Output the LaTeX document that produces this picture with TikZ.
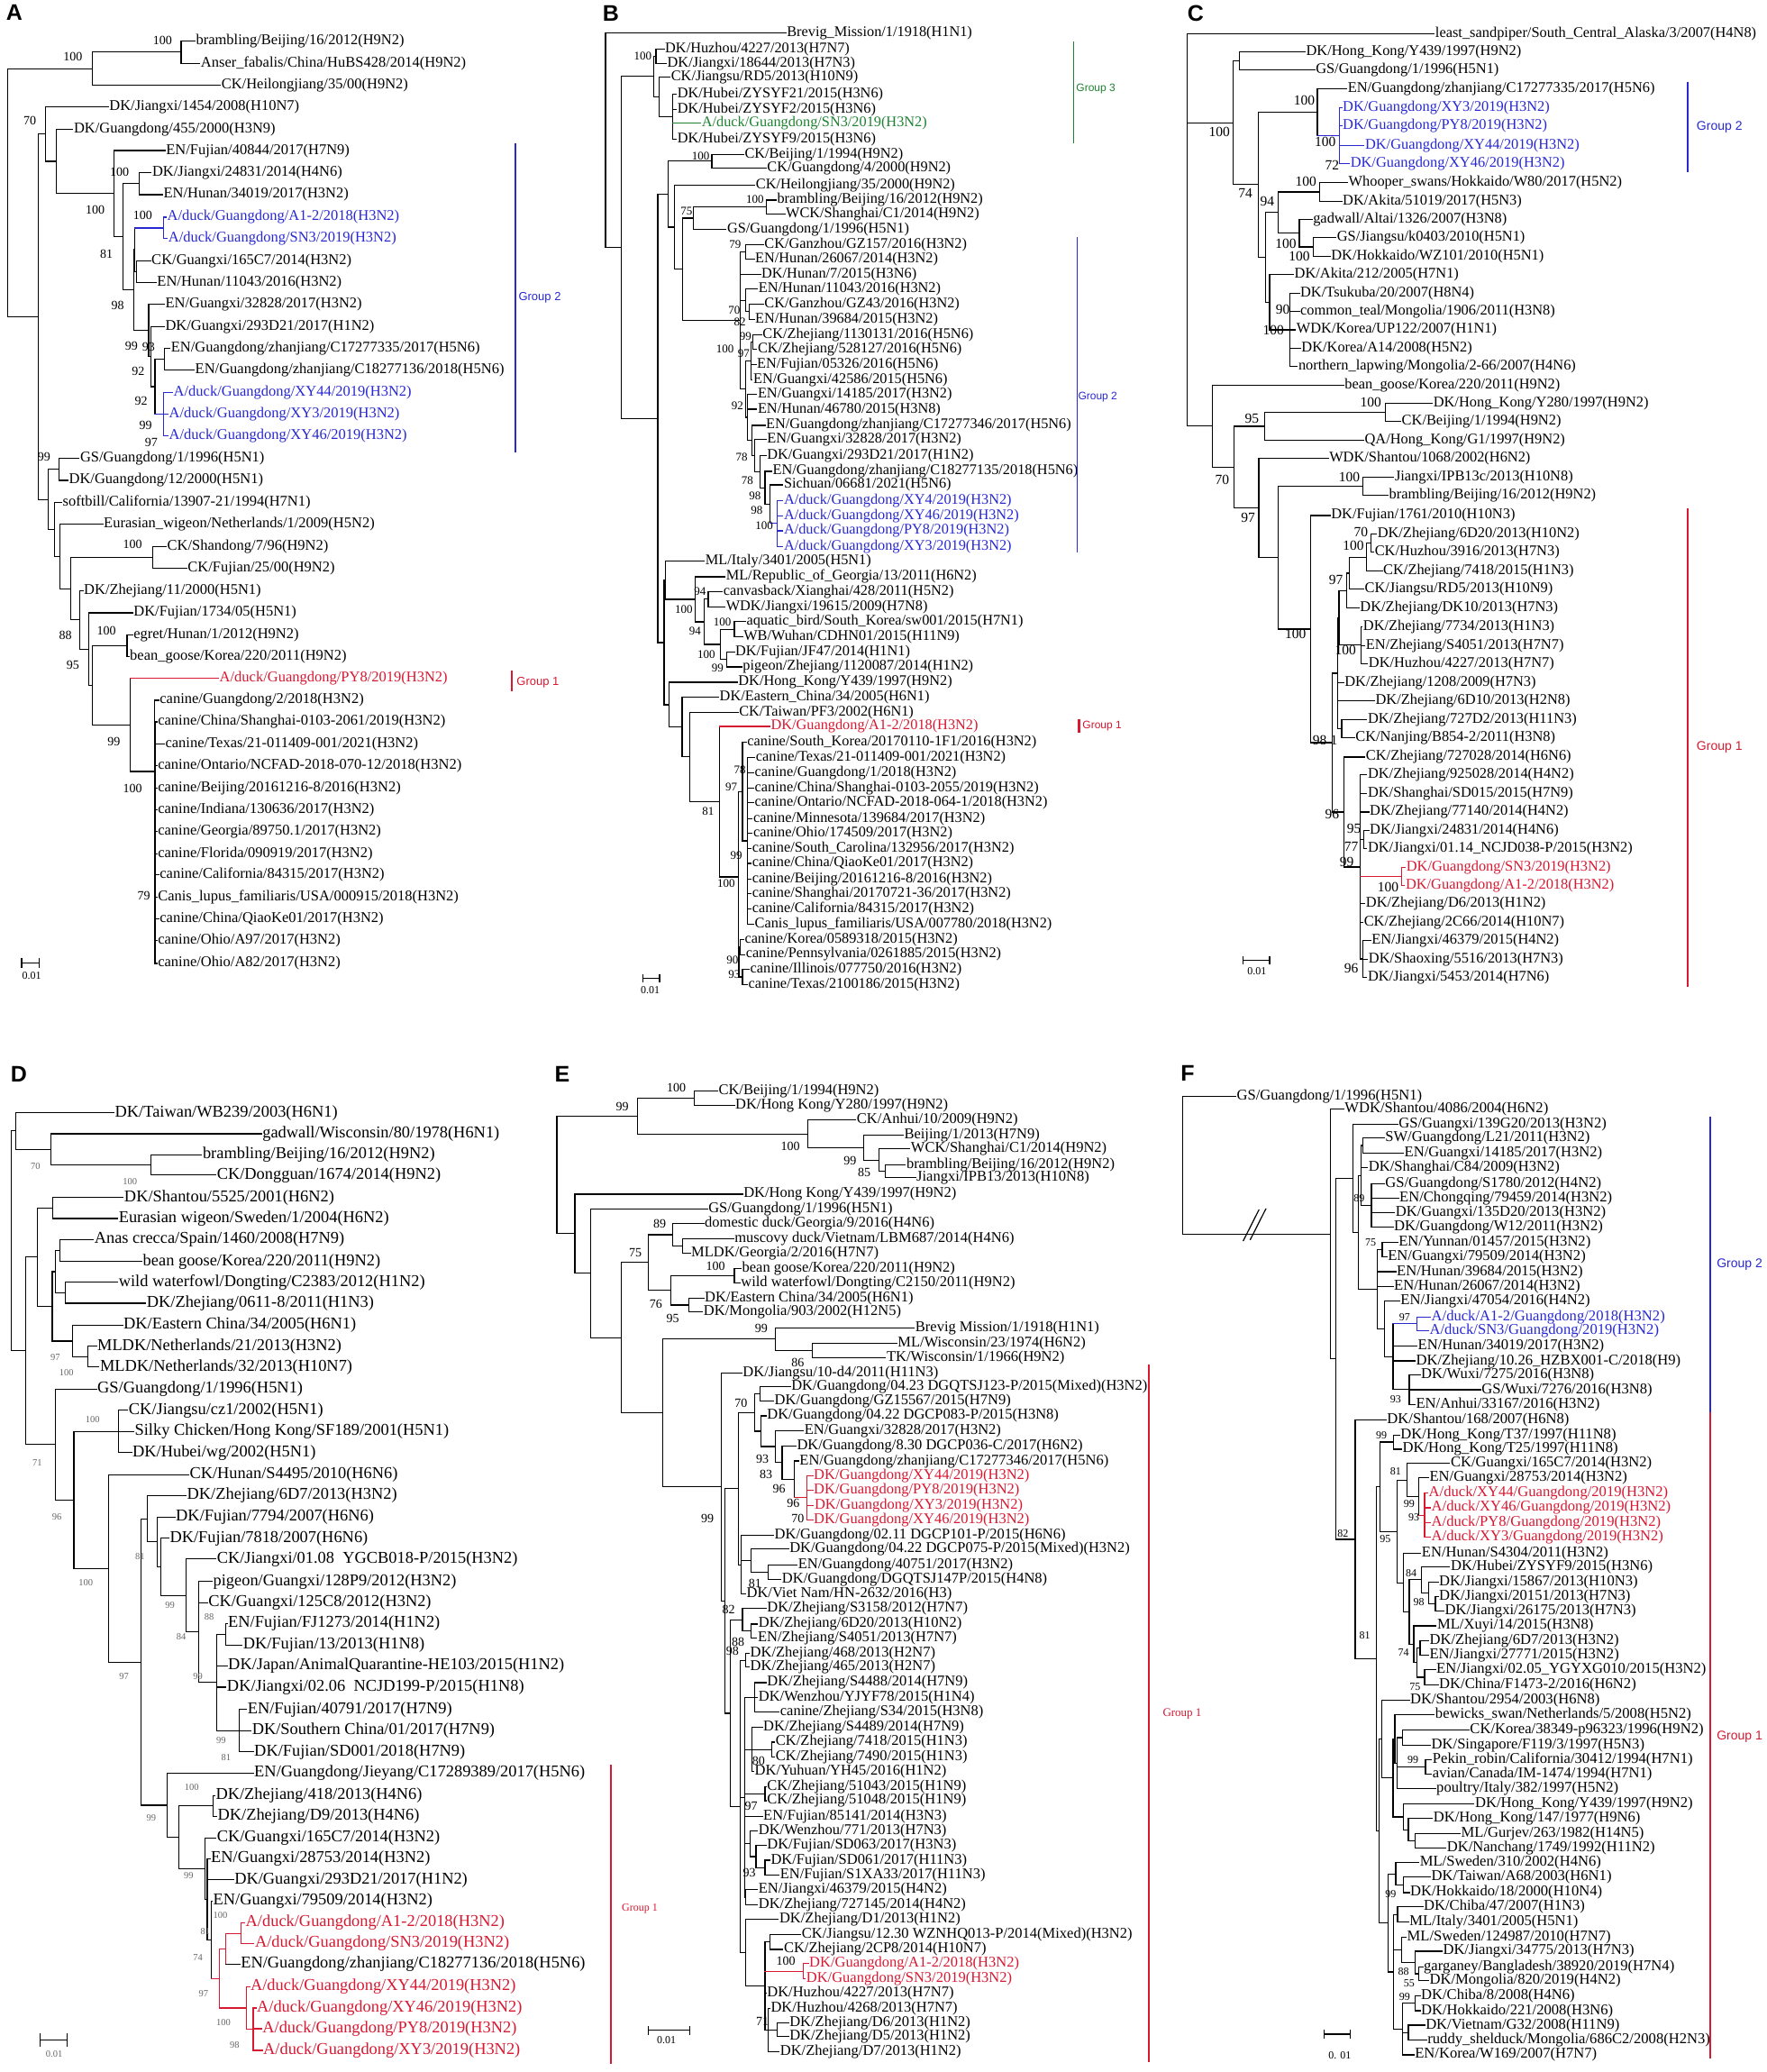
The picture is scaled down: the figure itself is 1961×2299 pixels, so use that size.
\documentclass[tikz,border=0pt]{standalone}
\usepackage{fontspec}
\setmainfont{Liberation Serif}
\newfontfamily\sansf{Liberation Sans}
\usetikzlibrary{calc}
\definecolor{cb}{RGB}{40,40,210}
\definecolor{cr}{RGB}{215,25,50}
\definecolor{cg}{RGB}{30,130,50}
\newcommand\fsz[1]{\fontsize{#1}{#1}\selectfont}
\makeatletter
\newcommand\Lf[4][black]{%
  \coordinate (#2) at (#3);%
  \node[lab,text=#1] (#2t) at (#3) {#4};%
  \expandafter\xdef\csname ec@#2\endcsname{#1}}
\newcommand\Cl[4][black]{%
  \foreach \c [count=\i] in {#4} {\ifnum\i=1 \xdef\clA{\c}\fi \xdef\clB{\c}}%
  \edef\cltmp{\noexpand\coordinate (tmpmid) at ($(\clA)!0.5!(\clB)$);}\cltmp
  \coordinate (tmpx) at (#3,0);%
  \coordinate (#2) at (tmpx |- tmpmid);%
  \expandafter\xdef\csname ec@#2\endcsname{#1}%
  \edef\cltmp{\noexpand\draw[br,draw=#1] (#2 |- \clA) -- (#2 |- \clB);}\cltmp
  \foreach \c in {#4} {\edef\cltmp{\noexpand\draw[br,draw=\csname ec@\c\endcsname] (#2 |- \c) -- (\c);}\cltmp}%
}
\newcommand\Bs[2]{\node[bsl] at (#1) {#2};}
\makeatother
\begin{document}
\begin{tikzpicture}[x=1pt,y=-1pt,
  br/.style={line width=1.2pt,line cap=rect},
  gbar/.style={line width=2.4pt},
  glab/.style={font=\sansf\fsz{13},inner sep=0pt,anchor=west},
  sbar/.style={line width=1.2pt},
  slab/.style={font=\fsz{12},inner sep=0pt},
  plet/.style={font=\sansf\bfseries\fsz{25},inner sep=0pt},
  lab/.style={anchor=west,inner sep=1pt,font=\fsz{16.5}},
  bsl/.style={font=\fsz{14},inner sep=0pt},
  z1/.style={shift={(0,0)},xscale=0.4145,yscale=0.357},
  z2/.style={shift={(0,540)},xscale=0.4145,yscale=0.3635},
  z3/.style={shift={(645,0)},xscale=0.4145,yscale=0.357},
  z4/.style={shift={(645,540)},xscale=0.4145,yscale=0.3635},
  z5/.style={shift={(1290,0)},xscale=0.428,yscale=0.357},
  z6/.style={shift={(1290,540)},xscale=0.428,yscale=0.3635},
  z7/.style={shift={(0,1130)},xscale=0.4145,yscale=0.3763},
  z8/.style={shift={(0,1700)},xscale=0.4145,yscale=0.382},
  z9/.style={shift={(645,1130)},xscale=0.4145,yscale=0.3763},
  z10/.style={shift={(645,1700)},xscale=0.4145,yscale=0.382},
  z11/.style={shift={(1290,1130)},xscale=0.428,yscale=0.3763},
  z12/.style={shift={(1290,1700)},xscale=0.428,yscale=0.382}]
\useasboundingbox (0,0) rectangle (1961,2299);
\fill[white] (0,0) rectangle (1961,2299);
\node[plet] (LA) at (16,14) {A};
\node[plet] (LB) at (678,15) {B};
\node[plet] (LC) at (1327,15) {C};
\node[plet] (LD) at (21,1192) {D};
\node[plet] (LE) at (624,1192) {E};
\node[plet] (LF) at (1318,1191) {F};

% ================= PANEL A =================
\begin{scope}[z1]
\Lf{a1}{522,127}{brambling/Beijing/16/2012(H9N2)}
\Lf{a2}{535,197}{Anser\_fabalis/China/HuBS428/2014(H9N2)}
\Lf{a3}{590,265}{CK/Heilongjiang/35/00(H9N2)}
\Lf{a4}{290,333}{DK/Jiangxi/1454/2008(H10N7)}
\Lf{a5}{195,401}{DK/Guangdong/455/2000(H3N9)}
\Lf{a6}{442,468}{EN/Fujian/40844/2017(H7N9)}
\Lf{a7}{405,537}{DK/Jiangxi/24831/2014(H4N6)}
\Lf{a8}{435,605}{EN/Hunan/34019/2017(H3N2)}
\Lf[cb]{a9}{445,675}{A/duck/Guangdong/A1-2/2018(H3N2)}
\Lf[cb]{a10}{448,742}{A/duck/Guangdong/SN3/2019(H3N2)}
\Lf{a11}{403,810}{CK/Guangxi/165C7/2014(H3N2)}
\Lf{a12}{418,878}{EN/Hunan/11043/2016(H3N2)}
\Lf{a13}{440,945}{EN/Guangxi/32828/2017(H3N2)}
\Lf{a14}{440,1015}{DK/Guangxi/293D21/2017(H1N2)}
\Lf{a15}{455,1083}{EN/Guangdong/zhanjiang/C17277335/2017(H5N6)}
\Lf{a16}{520,1150}{EN/Guangdong/zhanjiang/C18277136/2018(H5N6)}
\Lf[cb]{a17}{462,1220}{A/duck/Guangdong/XY44/2019(H3N2)}
\Lf[cb]{a18}{450,1288}{A/duck/Guangdong/XY3/2019(H3N2)}
\Lf[cb]{a19}{450,1355}{A/duck/Guangdong/XY46/2019(H3N2)}
\Lf{a20}{212,1425}{GS/Guangdong/1/1996(H5N1)}
\Lf{a21}{182,1493}{DK/Guangdong/12/2000(H5N1)}
\Bs{435,125}{100}\Bs{195,175}{100}\Bs{80,375}{70}\Bs{320,535}{100}
\Bs{255,652}{100}\Bs{382,670}{100}\Bs{285,790}{81}\Bs{315,950}{98}
\Bs{352,1075}{99}\Bs{398,1078}{93}\Bs{370,1155}{92}\Bs{378,1245}{92}
\Bs{390,1322}{99}\Bs{405,1375}{97}\Bs{118,1420}{99}
\draw[gbar,cb] (1380,445) -- (1380,1405);
\node[glab,cb] (gA2) at (1388,925) {Group 2};
\end{scope}
\begin{scope}[z2]
\Lf{a22}{165,48}{softbill/California/13907-21/1994(H7N1)}
\Lf{a23}{275,115}{Eurasian\_wigeon/Netherlands/1/2009(H5N2)}
\Lf{a24}{445,182}{CK/Shandong/7/96(H9N2)}
\Lf{a25}{500,250}{CK/Fujian/25/00(H9N2)}
\Lf{a26}{222,318}{DK/Zhejiang/11/2000(H5N1)}
\Lf{a27}{355,385}{DK/Fujian/1734/05(H5N1)}
\Lf{a28}{355,452}{egret/Hunan/1/2012(H9N2)}
\Lf{a29}{345,518}{bean\_goose/Korea/220/2011(H9N2)}
\Lf[cr]{a30}{585,585}{A/duck/Guangdong/PY8/2019(H3N2)}
\Lf{a31}{425,652}{canine/Guangdong/2/2018(H3N2)}
\Lf{a32}{420,718}{canine/China/Shanghai-0103-2061/2019(H3N2)}
\Lf{a33}{440,785}{canine/Texas/21-011409-001/2021(H3N2)}
\Lf{a34}{420,852}{canine/Ontario/NCFAD-2018-070-12/2018(H3N2)}
\Lf{a35}{420,920}{canine/Beijing/20161216-8/2016(H3N2)}
\Lf{a36}{420,987}{canine/Indiana/130636/2017(H3N2)}
\Lf{a37}{420,1053}{canine/Georgia/89750.1/2017(H3N2)}
\Lf{a38}{420,1120}{canine/Florida/090919/2017(H3N2)}
\Lf{a39}{425,1185}{canine/California/84315/2017(H3N2)}
\Lf{a40}{420,1252}{Canis\_lupus\_familiaris/USA/000915/2018(H3N2)}
\Lf{a41}{425,1320}{canine/China/QiaoKe01/2017(H3N2)}
\Lf{a42}{420,1385}{canine/Ohio/A97/2017(H3N2)}
\Lf{a43}{420,1455}{canine/Ohio/A82/2017(H3N2)}
\Cl{an1}{485}{a1,a2}
\Cl{an2}{248}{an1,a3}
\Cl{an3}{372}{a7,a8}
\Cl[cb]{an4}{437}{a9,a10}
\Cl{an5}{366}{a11,a12}
\Cl{an6}{360}{an4,an5}
\Cl{an7}{440}{a15,a16}
\Cl[cb]{an8}{437}{a17,a18,a19}
\Cl{an9}{415}{an7,an8}
\Cl{an10}{405}{a14,an9}
\Cl{an11}{398}{a13,an10}
\Cl{an12}{358}{an6,an11}
\Cl{an13}{330}{an3,an12}
\Cl{an14}{305}{a6,an13}
\Cl{an15}{150}{a5,an14}
\Cl{an16}{122}{a4,an15}
\Cl{an17}{158}{a20,a21}
\Cl{an18}{408}{a24,a25}
\Cl{an19}{340}{a28,a29}
\Cl{an20}{415}{a32,a33,a34,a35,a36,a37,a38,a39,a40,a41,a42,a43}
\Cl{an21}{413}{a31,an20}
\Cl{an22}{348}{a30,an21}
\Cl{an23}{248}{an19,an22}
\Cl{an24}{237}{a27,an23}
\Cl{an25}{213}{a26,an24}
\Cl{an26}{190}{an18,an25}
\Cl{an27}{160}{a23,an26}
\Cl{an28}{145}{a22,an27}
\Cl{an29}{130}{an17,an28}
\Cl{an30}{103}{an16,an29}
\Cl{an31}{20}{an2,an30}
\Bs{355,175}{100}\Bs{175,455}{88}\Bs{285,440}{100}\Bs{195,545}{95}
\Bs{305,778}{99}\Bs{355,920}{100}\Bs{385,1250}{79}
\draw[gbar,cr] (1370,560) -- (1370,625);
\node[glab,cr] (gA1) at (1383,598) {Group 1};
\draw[sbar] (58,1455) -- (105,1455) (58,1438) -- (58,1470) (105,1438) -- (105,1470);
\node[slab] (sA) at (85,1492) {0.01};
\end{scope}

% ================= PANEL B =================
\begin{scope}[z3,lab/.style={anchor=west,inner sep=1pt,font=\fsz{16.3}},bsl/.style={font=\fsz{13},inner sep=0pt}]
\Lf{b1}{548,103}{Brevig\_Mission/1/1918(H1N1)}
\Lf{b2}{222,152}{DK/Huzhou/4227/2013(H7N7)}
\Lf{b3}{228,197}{DK/Jiangxi/18644/2013(H7N3)}
\Lf{b4}{238,240}{CK/Jiangsu/RD5/2013(H10N9)}
\Lf{b5}{255,292}{DK/Hubei/ZYSYF21/2015(H3N6)}
\Lf{b6}{255,340}{DK/Hubei/ZYSYF2/2015(H3N6)}
\Lf[cg]{b7}{320,383}{A/duck/Guangdong/SN3/2019(H3N2)}
\Lf{b8}{255,432}{DK/Hubei/ZYSYF9/2015(H3N6)}
\Lf{b9}{435,480}{CK/Beijing/1/1994(H9N2)}
\Lf{b10}{495,522}{CK/Guangdong/4/2000(H9N2)}
\Lf{b11}{465,575}{CK/Heilongjiang/35/2000(H9N2)}
\Lf{b12}{522,622}{brambling/Beijing/16/2012(H9N2)}
\Lf{b13}{545,665}{WCK/Shanghai/C1/2014(H9N2)}
\Lf{b14}{388,713}{GS/Guangdong/1/1996(H5N1)}
\Lf{b15}{488,760}{CK/Ganzhou/GZ157/2016(H3N2)}
\Lf{b16}{463,805}{EN/Hunan/26067/2014(H3N2)}
\Lf{b17}{480,852}{DK/Hunan/7/2015(H3N6)}
\Lf{b18}{472,898}{EN/Hunan/11043/2016(H3N2)}
\Lf{b19}{488,945}{CK/Ganzhou/GZ43/2016(H3N2)}
\Lf{b20}{463,992}{EN/Hunan/39684/2015(H3N2)}
\Lf{b21}{483,1040}{CK/Zhejiang/1130131/2016(H5N6)}
\Lf{b22}{470,1085}{CK/Zhejiang/528127/2016(H5N6)}
\Lf{b23}{468,1133}{EN/Fujian/05326/2016(H5N6)}
\Lf{b24}{458,1180}{EN/Guangxi/42586/2015(H5N6)}
\Lf{b25}{470,1225}{EN/Guangxi/14185/2017(H3N2)}
\Lf{b26}{470,1272}{EN/Hunan/46780/2015(H3N8)}
\Lf{b27}{492,1322}{EN/Guangdong/zhanjiang/C17277346/2017(H5N6)}
\Lf{b28}{495,1365}{EN/Guangxi/32828/2017(H3N2)}
\Lf{b29}{495,1415}{DK/Guangxi/293D21/2017(H1N2)}
\Lf{b30}{510,1465}{EN/Guangdong/zhanjiang/C18277135/2018(H5N6)}
\Lf{b31}{540,1507}{Sichuan/06681/2021(H5N6)}
\Bs{165,175}{100}\Bs{320,485}{100}\Bs{465,620}{100}\Bs{282,655}{75}
\Bs{412,760}{79}\Bs{410,965}{70}\Bs{425,1000}{82}\Bs{440,1045}{99}
\Bs{385,1085}{100}\Bs{435,1100}{97}\Bs{418,1260}{92}\Bs{430,1420}{78}
\Bs{445,1495}{78}\Bs{465,1540}{98}
\draw[gbar,cg,line width=1.6pt] (1318,130) -- (1318,445);
\node[glab,cg,font=\sansf\fsz{12}] (gB3) at (1325,275) {Group 3};
\draw[gbar,cb,line width=1.6pt] (1328,738) -- (1328,1568);
\node[glab,cb,font=\sansf\fsz{12}] (gB2) at (1330,1235) {Group 2};
\end{scope}
\begin{scope}[z4,lab/.style={anchor=west,inner sep=1pt,font=\fsz{16.3}},bsl/.style={font=\fsz{13},inner sep=0pt}]
\Lf[cb]{b32}{540,42}{A/duck/Guangdong/XY4/2019(H3N2)}
\Lf[cb]{b33}{540,90}{A/duck/Guangdong/XY46/2019(H3N2)}
\Lf[cb]{b34}{540,135}{A/duck/Guangdong/PY8/2019(H3N2)}
\Lf[cb]{b35}{540,182}{A/duck/Guangdong/XY3/2019(H3N2)}
\Lf{b36}{330,228}{ML/Italy/3401/2005(H5N1)}
\Lf{b37}{385,275}{ML/Republic\_of\_Georgia/13/2011(H6N2)}
\Lf{b38}{378,320}{canvasback/Xianghai/428/2011(H5N2)}
\Lf{b39}{385,367}{WDK/Jiangxi/19615/2009(H7N8)}
\Lf{b40}{440,412}{aquatic\_bird/South\_Korea/sw001/2015(H7N1)}
\Lf{b41}{432,458}{WB/Wuhan/CDHN01/2015(H11N9)}
\Lf{b42}{410,505}{DK/Fujian/JF47/2014(H1N1)}
\Lf{b43}{430,550}{pigeon/Zhejiang/1120087/2014(H1N2)}
\Lf{b44}{418,597}{DK/Hong\_Kong/Y439/1997(H9N2)}
\Lf{b45}{368,643}{DK/Eastern\_China/34/2005(H6N1)}
\Lf{b46}{420,688}{CK/Taiwan/PF3/2002(H6N1)}
\Lf[cr]{b47}{505,732}{DK/Guangdong/A1-2/2018(H3N2)}
\Lf{b48}{442,780}{canine/South\_Korea/20170110-1F1/2016(H3N2)}
\Lf{b49}{465,827}{canine/Texas/21-011409-001/2021(H3N2)}
\Lf{b50}{462,873}{canine/Guangdong/1/2018(H3N2)}
\Lf{b51}{462,920}{canine/China/Shanghai-0103-2055/2019(H3N2)}
\Lf{b52}{462,965}{canine/Ontario/NCFAD-2018-064-1/2018(H3N2)}
\Lf{b53}{458,1013}{canine/Minnesota/139684/2017(H3N2)}
\Lf{b54}{458,1058}{canine/Ohio/174509/2017(H3N2)}
\Lf{b55}{455,1105}{canine/South\_Carolina/132956/2017(H3N2)}
\Lf{b56}{455,1150}{canine/China/QiaoKe01/2017(H3N2)}
\Lf{b57}{455,1197}{canine/Beijing/20161216-8/2016(H3N2)}
\Lf{b58}{455,1242}{canine/Shanghai/20170721-36/2017(H3N2)}
\Lf{b59}{455,1288}{canine/California/84315/2017(H3N2)}
\Lf{b60}{462,1335}{Canis\_lupus\_familiaris/USA/007780/2018(H3N2)}
\Lf{b61}{435,1382}{canine/Korea/0589318/2015(H3N2)}
\Lf{b62}{438,1428}{canine/Pennsylvania/0261885/2015(H3N2)}
\Lf{b63}{450,1473}{canine/Illinois/077750/2016(H3N2)}
\Lf{b64}{445,1520}{canine/Texas/2100186/2015(H3N2)}
\Cl{bn1}{200}{b2,b3}
\Cl{bn2}{245}{b5,b6,b7,b8}
\Cl{bn3}{208}{b4,bn2}
\Cl{bn4}{195}{bn1,bn3}
\Cl{bn5}{350}{b9,b10}
\Cl{bn6}{495}{b12,b13}
\Cl{bn7}{300}{bn6,b14}
\Cl{bn8}{440}{b15,b16}
\Cl{bn9}{450}{b19,b20}
\Cl{bn10}{440}{b18,bn9}
\Cl{bn11}{460}{b21,b22}
\Cl{bn12}{455}{bn11,b23,b24}
\Cl[cb]{bn13}{525}{b32,b33,b34,b35}
\Cl{bn14}{505}{b31,bn13}
\Cl{bn15}{492}{b30,bn14}
\Cl{bn16}{478}{b29,bn15}
\Cl{bn17}{465}{b28,bn16}
\Cl{bn18}{458}{b27,bn17}
\Cl{bn19}{445}{b25,b26,bn18}
\Cl{bn20}{440}{bn12,bn19}
\Cl{bn21}{425}{bn8,b17,bn10,bn20}
\Cl{bn22}{272}{bn7,bn21}
\Cl{bn23}{250}{b11,bn22}
\Cl{bn24}{232}{bn5,bn23}
\Cl{bn25}{340}{b38,b39}
\Cl{bn27}{410}{b40,b41}
\Cl{bn28}{390}{b42,b43}
\Cl{bn29}{372}{bn27,bn28}
\Cl{bn30}{330}{bn25,bn29}
\Cl{bn31}{305}{b37,bn30}
\Cl{bn32}{225}{b36,bn31}
\Cl{bn34}{445}{b49,b50,b51,b52,b53,b54,b55,b56,b57,b58,b59,b60}
\Cl{bn35}{432}{b48,bn34}
\Cl{bn36}{425}{b61,b62}
\Cl{bn37}{432}{b63,b64}
\Cl{bn38}{422}{bn36,bn37}
\Cl{bn39}{420}{bn35,bn38}
\Cl{bn40}{370}{b47,bn39}
\Cl{bn41}{290}{b46,bn40}
\Cl{bn42}{270}{b45,bn41}
\Cl{bn43}{235}{b44,bn42}
\Cl{bn44}{222}{bn32,bn43}
\Cl{bn45}{205}{bn24,bn44}
\Cl{bn46}{108}{bn4,bn45}
\Cl{bn47}{65}{b1,bn46}
\Bs{470,72}{98}\Bs{490,120}{100}\Bs{318,320}{94}\Bs{275,375}{100}
\Bs{305,440}{94}\Bs{378,412}{100}\Bs{335,513}{100}\Bs{365,555}{99}
\Bs{425,865}{78}\Bs{402,918}{97}\Bs{340,990}{81}\Bs{415,1125}{99}
\Bs{388,1210}{100}\Bs{405,1445}{90}\Bs{410,1490}{93}
\draw[gbar,cb,line width=1.6pt] (1328,0) -- (1328,200);
\draw[gbar,cr] (1333,710) -- (1333,752);
\node[glab,cr,font=\sansf\fsz{12}] (gB1) at (1342,730) {Group 1};
\draw[sbar] (165,1500) -- (210,1500) (165,1488) -- (165,1512) (210,1488) -- (210,1512);
\node[slab] (sB) at (185,1537) {0.01};
\end{scope}

% ================= PANEL C =================
\begin{scope}[z5,lab/.style={anchor=west,inner sep=1pt,font=\fsz{16.4}},bsl/.style={font=\fsz{15.5},inner sep=0pt}]
\Lf{c1}{705,105}{least\_sandpiper/South\_Central\_Alaska/3/2007(H4N8)}
\Lf{c2}{370,162}{DK/Hong\_Kong/Y439/1997(H9N2)}
\Lf{c3}{395,218}{GS/Guangdong/1/1996(H5N1)}
\Lf{c4}{478,275}{EN/Guangdong/zhanjiang/C17277335/2017(H5N6)}
\Lf[cb]{c5}{465,335}{DK/Guangdong/XY3/2019(H3N2)}
\Lf[cb]{c6}{465,390}{DK/Guangdong/PY8/2019(H3N2)}
\Lf[cb]{c7}{523,452}{DK/Guangdong/XY44/2019(H3N2)}
\Lf[cb]{c8}{485,508}{DK/Guangdong/XY46/2019(H3N2)}
\Lf{c9}{480,568}{Whooper\_swans/Hokkaido/W80/2017(H5N2)}
\Lf{c10}{465,625}{DK/Akita/51019/2017(H5N3)}
\Lf{c11}{388,683}{gadwall/Altai/1326/2007(H3N8)}
\Lf{c12}{450,738}{GS/Jiangsu/k0403/2010(H5N1)}
\Lf{c13}{435,797}{DK/Hokkaido/WZ101/2010(H5N1)}
\Lf{c14}{340,853}{DK/Akita/212/2005(H7N1)}
\Lf{c15}{355,912}{DK/Tsukuba/20/2007(H8N4)}
\Lf{c16}{355,968}{common\_teal/Mongolia/1906/2011(H3N8)}
\Lf{c17}{345,1025}{WDK/Korea/UP122/2007(H1N1)}
\Lf{c18}{358,1082}{DK/Korea/A14/2008(H5N2)}
\Lf{c19}{350,1138}{northern\_lapwing/Mongolia/2-66/2007(H4N6)}
\Lf{c20}{470,1197}{bean\_goose/Korea/220/2011(H9N2)}
\Lf{c21}{700,1253}{DK/Hong\_Kong/Y280/1997(H9N2)}
\Lf{c22}{618,1310}{CK/Beijing/1/1994(H9N2)}
\Lf{c23}{522,1368}{QA/Hong\_Kong/G1/1997(H9N2)}
\Lf{c24}{430,1425}{WDK/Shantou/1068/2002(H6N2)}
\Lf{c25}{600,1483}{Jiangxi/IPB13c/2013(H10N8)}
\Lf{c26}{585,1540}{brambling/Beijing/16/2012(H9N2)}
\Bs{368,312}{100}\Bs{422,440}{100}\Bs{440,515}{72}\Bs{148,410}{100}
\Bs{215,600}{74}\Bs{272,625}{94}\Bs{372,565}{100}\Bs{320,757}{100}
\Bs{355,797}{100}\Bs{312,963}{90}\Bs{288,1025}{100}\Bs{540,1250}{100}
\Bs{232,1300}{95}\Bs{155,1490}{70}\Bs{485,1483}{100}
\draw[gbar,cb] (1362,255) -- (1362,535);
\node[glab,cb,font=\sansf\fsz{14}] (gC2) at (1385,395) {Group 2};
\end{scope}
\begin{scope}[z6,lab/.style={anchor=west,inner sep=1pt,font=\fsz{16.4}},bsl/.style={font=\fsz{15.5},inner sep=0pt}]
\Lf{c27}{435,88}{DK/Fujian/1761/2010(H10N3)}
\Lf{c28}{555,145}{DK/Zhejiang/6D20/2013(H10N2)}
\Lf{c29}{548,200}{CK/Huzhou/3916/2013(H7N3)}
\Lf{c30}{570,258}{CK/Zhejiang/7418/2015(H1N3)}
\Lf{c31}{522,313}{CK/Jiangsu/RD5/2013(H10N9)}
\Lf{c32}{510,370}{DK/Zhejiang/DK10/2013(H7N3)}
\Lf{c33}{518,427}{DK/Zhejiang/7734/2013(H1N3)}
\Lf{c34}{525,485}{EN/Zhejiang/S4051/2013(H7N7)}
\Lf{c35}{532,540}{DK/Huzhou/4227/2013(H7N7)}
\Lf{c36}{470,598}{DK/Zhejiang/1208/2009(H7N3)}
\Lf{c37}{550,653}{DK/Zhejiang/6D10/2013(H2N8)}
\Lf{c38}{530,710}{DK/Zhejiang/727D2/2013(H11N3)}
\Lf{c39}{498,767}{CK/Nanjing/B854-2/2011(H3N8)}
\Lf{c40}{525,825}{CK/Zhejiang/727028/2014(H6N6)}
\Lf{c41}{530,880}{DK/Zhejiang/925028/2014(H4N2)}
\Lf{c42}{530,937}{DK/Shanghai/SD015/2015(H7N9)}
\Lf{c43}{535,993}{DK/Zhejiang/77140/2014(H4N2)}
\Lf{c44}{535,1050}{DK/Jiangxi/24831/2014(H4N6)}
\Lf{c45}{530,1105}{DK/Jiangxi/01.14\_NCJD038-P/2015(H3N2)}
\Lf[cr]{c46}{630,1162}{DK/Guangdong/SN3/2019(H3N2)}
\Lf[cr]{c47}{628,1218}{DK/Guangdong/A1-2/2018(H3N2)}
\Lf{c48}{525,1273}{DK/Zhejiang/D6/2013(H1N2)}
\Lf{c49}{520,1330}{CK/Zhejiang/2C66/2014(H10N7)}
\Lf{c50}{540,1385}{EN/Jiangxi/46379/2015(H4N2)}
\Lf{c51}{532,1443}{DK/Shaoxing/5516/2013(H7N3)}
\Lf{c52}{530,1498}{DK/Jiangxi/5453/2014(H7N6)}
\Cl[cb]{cn1}{460}{c5,c6,c7,c8}
\Cl{cn2}{402}{c4,cn1}
\Cl{cn3}{408}{c9,c10}
\Cl{cn4}{392}{c12,c13}
\Cl{cn5}{355}{c11,cn4}
\Cl{cn6}{300}{cn3,cn5}
\Cl{cn7}{330}{c15,c16,c17,c18,c19}
\Cl{cn8}{278}{c14,cn7}
\Cl{cn9}{268}{cn6,cn8}
\Cl{cn10}{248}{cn2,cn9}
\Cl{cn11}{200}{c2,c3}
\Cl{cn12}{183}{cn11,cn10}
\Cl{cn14}{578}{c21,c22}
\Cl{cn15}{265}{cn14,c23}
\Cl{cn16}{520}{c25,c26}
\Cl{cq1}{540}{c28,c29}
\Cl{cq2}{530}{cq1,c30}
\Cl{cq3}{485}{cq2,c31}
\Cl{cq4}{478}{cq3,c32}
\Cl{cq5}{515}{c33,c34,c35}
\Cl{cq6}{458}{cq4,cq5}
\Cl{cq7}{465}{c38,c39}
\Cl{cq8}{455}{cq6,c36,c37,cq7}
\Cl[cr]{cq9}{620}{c46,c47}
\Cl{cq10}{522}{c44,c45}
\Cl{cq12}{520}{c50,c51,c52}
\Cl{cq11}{512}{c41,c42,c43,cq10,cq9,c48,c49,cq12}
\Cl{cq14}{470}{c40,cq11}
\Cl{cq15}{440}{cq8,cq14}
\Cl{cq16}{385}{c27,cq15}
\Cl{cp}{300}{cn16,cq16}
\Cl{cn18}{250}{c24,cp}
\Cl{cn19}{185}{cn15,cn18}
\Cl{cn20}{130}{c20,cn19}
\Cl{cn21}{65}{c1,cn12,cn20}
\Bs{222,95}{97}\Bs{515,140}{70}\Bs{495,180}{100}\Bs{450,285}{97}
\Bs{345,450}{100}\Bs{475,500}{100}\Bs{408,775}{98}\Bs{445,775}{1}
\Bs{440,1000}{96}\Bs{497,1045}{95}\Bs{490,1100}{77}\Bs{478,1147}{99}
\Bs{585,1222}{100}\Bs{490,1470}{96}
\draw[gbar,cr] (1362,65) -- (1362,1528);
\node[glab,cr,font=\sansf\fsz{14}] (gC1) at (1385,795) {Group 1};
\draw[sbar] (210,1445) -- (278,1445) (210,1432) -- (210,1458) (278,1432) -- (278,1458);
\node[slab] (sC) at (245,1480) {0.01};
\end{scope}

% ================= PANEL D =================
\begin{scope}[z7,lab/.style={anchor=west,inner sep=1pt,font=\fsz{18.4}},bsl/.style={font=\fsz{10.5},inner sep=0pt,text=black!60}]
\Lf{d1}{305,278}{DK/Taiwan/WB239/2003(H6N1)}
\Lf{d2}{700,340}{gadwall/Wisconsin/80/1978(H6N1)}
\Lf{d3}{540,402}{brambling/Beijing/16/2012(H9N2)}
\Lf{d4}{578,462}{CK/Dongguan/1674/2014(H9N2)}
\Lf{d5}{330,528}{DK/Shantou/5525/2001(H6N2)}
\Lf{d6}{315,590}{Eurasian wigeon/Sweden/1/2004(H6N2)}
\Lf{d7}{250,652}{Anas crecca/Spain/1460/2008(H7N9)}
\Lf{d8}{380,717}{bean goose/Korea/220/2011(H9N2)}
\Lf{d9}{315,778}{wild waterfowl/Dongting/C2383/2012(H1N2)}
\Lf{d10}{390,840}{DK/Zhejiang/0611-8/2011(H1N3)}
\Lf{d11}{328,905}{DK/Eastern China/34/2005(H6N1)}
\Lf{d12}{258,967}{MLDK/Netherlands/21/2013(H3N2)}
\Lf{d13}{265,1028}{MLDK/Netherlands/32/2013(H10N7)}
\Lf{d14}{258,1093}{GS/Guangdong/1/1996(H5N1)}
\Lf{d15}{342,1155}{CK/Jiangsu/cz1/2002(H5N1)}
\Lf{d16}{358,1218}{Silky Chicken/Hong Kong/SF189/2001(H5N1)}
\Lf{d17}{352,1280}{DK/Hubei/wg/2002(H5N1)}
\Lf{d18}{505,1345}{CK/Hunan/S4495/2010(H6N6)}
\Lf{d19}{498,1407}{DK/Zhejiang/6D7/2013(H3N2)}
\Lf{d20}{468,1470}{DK/Fujian/7794/2007(H6N6)}
\Bs{95,435}{70}\Bs{348,480}{100}\Bs{148,1000}{97}\Bs{178,1045}{100}
\Bs{248,1182}{100}\Bs{100,1310}{71}\Bs{152,1470}{96}
\end{scope}
\begin{scope}[z8,lab/.style={anchor=west,inner sep=1pt,font=\fsz{18.4}},bsl/.style={font=\fsz{10.5},inner sep=0pt,text=black!60}]
\Lf{d21}{452,18}{DK/Fujian/7818/2007(H6N6)}
\Lf{d22}{578,78}{CK/Jiangxi/01.08\ \ YGCB018-P/2015(H3N2)}
\Lf{d23}{568,143}{pigeon/Guangxi/128P9/2012(H3N2)}
\Lf{d24}{555,205}{CK/Guangxi/125C8/2012(H3N2)}
\Lf{d25}{608,265}{EN/Fujian/FJ1273/2014(H1N2)}
\Lf{d26}{648,328}{DK/Fujian/13/2013(H1N8)}
\Lf{d27}{608,388}{DK/Japan/AnimalQuarantine-HE103/2015(H1N2)}
\Lf{d28}{605,450}{DK/Jiangxi/02.06\ \ NCJD199-P/2015(H1N8)}
\Lf{d29}{660,515}{EN/Fujian/40791/2017(H7N9)}
\Lf{d30}{672,577}{DK/Southern China/01/2017(H7N9)}
\Lf{d31}{678,638}{DK/Fujian/SD001/2018(H7N9)}
\Lf{d32}{678,700}{EN/Guangdong/Jieyang/C17289389/2017(H5N6)}
\Lf{d33}{575,765}{DK/Zhejiang/418/2013(H4N6)}
\Lf{d34}{580,825}{DK/Zhejiang/D9/2013(H4N6)}
\Lf{d35}{578,888}{CK/Guangxi/165C7/2014(H3N2)}
\Lf{d36}{562,948}{EN/Guangxi/28753/2014(H3N2)}
\Lf{d37}{625,1010}{DK/Guangxi/293D21/2017(H1N2)}
\Lf{d38}{568,1072}{EN/Guangxi/79509/2014(H3N2)}
\Lf[cr]{d39}{655,1135}{A/duck/Guangdong/A1-2/2018(H3N2)}
\Lf[cr]{d40}{680,1195}{A/duck/Guangdong/SN3/2019(H3N2)}
\Lf{d41}{642,1255}{EN/Guangdong/zhanjiang/C18277136/2018(H5N6)}
\Lf[cr]{d42}{668,1320}{A/duck/Guangdong/XY44/2019(H3N2)}
\Lf[cr]{d43}{685,1382}{A/duck/Guangdong/XY46/2019(H3N2)}
\Lf[cr]{d44}{700,1442}{A/duck/Guangdong/PY8/2019(H3N2)}
\Lf[cr]{d45}{702,1505}{A/duck/Guangdong/XY3/2019(H3N2)}
\Cl{dn1}{405}{d3,d4}
\Cl{dn2}{137}{d2,dn1}
\Cl{dn3}{42}{d1,dn2}
\Cl{dn4}{142}{d5,d6}
\Cl{dn5}{160}{d7,d8}
\Cl{dn6}{175}{d9,d10}
\Cl{dn7}{148}{dn5,dn6}
\Cl{dn8}{235}{d12,d13}
\Cl{dn9}{195}{d11,dn8}
\Cl{dn10}{140}{dn7,dn9}
\Cl{dn11}{100}{dn4,dn10}
\Cl{dn12}{318}{d15,d16,d17}
\Cl{dG1}{605}{d25,d26}
\Cl{dG2}{640}{d29,d30,d31}
\Cl{dG3}{580}{dG1,d27,d28,dG2}
\Cl{dG4}{532}{d23,d24,dG3}
\Cl{dG5}{498}{d22,dG4}
\Cl{dG6}{430}{d21,dG5}
\Cl{dG7}{420}{d20,dG6}
\Cl{dG8}{395}{d19,dG7}
\Cl{dR1}{570}{d33,d34}
\Cl[cr]{dR2}{645}{d39,d40}
\Cl[cr]{dR3}{605}{dR2,d41}
\Cl[cr]{dR4}{678}{d43,d44,d45}
\Cl[cr]{dR5}{660}{d42,dR4}
\Cl[cr]{dR6}{588}{dR3,dR5}
\Cl{dR7}{565}{d38,dR6}
\Cl{dR8}{555}{d36,d37,dR7}
\Cl{dR9}{548}{d35,dR8}
\Cl{dR10}{478}{dR1,dR9}
\Cl{dR11}{448}{d32,dR10}
\Cl{dG12}{378}{dG8,dR11}
\Cl{dG9}{290}{d18,dG12}
\Cl{dG10}{198}{dn12,dG9}
\Cl{dG11}{148}{d14,dG10}
\Cl{dn14}{68}{dn11,dG11}
\Cl{dn15}{30}{dn3,dn14}
\Bs{375,70}{81}\Bs{230,148}{100}\Bs{455,213}{99}\Bs{560,245}{88}
\Bs{485,305}{84}\Bs{332,420}{97}\Bs{530,418}{99}\Bs{592,605}{99}
\Bs{605,655}{81}\Bs{513,742}{100}\Bs{405,830}{99}\Bs{505,998}{99}
\Bs{590,1112}{100}\Bs{550,1160}{81}\Bs{530,1235}{74}\Bs{545,1340}{97}
\Bs{598,1425}{100}\Bs{628,1490}{98}
\draw[sbar] (108,1475) -- (180,1475) (108,1455) -- (108,1495) (180,1455) -- (180,1495);
\node[slab,font=\fsz{10.5},text=black!60] (sD) at (145,1517) {0.01};
\end{scope}
\draw[gbar,cr,line width=2pt] (678,1958) -- (678,2290);
\node[font=\fsz{12},text=cr,inner sep=0pt] (gD1) at (710,2118) {Group 1};

% ================= PANEL E =================
\begin{scope}[z9,lab/.style={anchor=west,inner sep=1pt,font=\fsz{16.5}},bsl/.style={font=\fsz{14},inner sep=0pt}]
\Lf{e1}{365,213}{CK/Beijing/1/1994(H9N2)}
\Lf{e2}{410,257}{DK/Hong Kong/Y280/1997(H9N2)}
\Lf{e3}{735,300}{CK/Anhui/10/2009(H9N2)}
\Lf{e4}{862,345}{Beijing/1/2013(H7N9)}
\Lf{e5}{880,385}{WCK/Shanghai/C1/2014(H9N2)}
\Lf{e6}{868,432}{brambling/Beijing/16/2012(H9N2)}
\Lf{e7}{895,470}{Jiangxi/IPB13/2013(H10N8)}
\Lf{e8}{432,518}{DK/Hong Kong/Y439/1997(H9N2)}
\Lf{e9}{338,562}{GS/Guangdong/1/1996(H5N1)}
\Lf{e10}{328,605}{domestic duck/Georgia/9/2016(H4N6)}
\Lf{e11}{408,650}{muscovy duck/Vietnam/LBM687/2014(H4N6)}
\Lf{e12}{292,692}{MLDK/Georgia/2/2016(H7N7)}
\Lf{e13}{428,737}{bean goose/Korea/220/2011(H9N2)}
\Lf{e14}{425,780}{wild waterfowl/Dongting/C2150/2011(H9N2)}
\Lf{e15}{328,825}{DK/Eastern China/34/2005(H6N1)}
\Lf{e16}{325,865}{DK/Mongolia/903/2002(H12N5)}
\Lf{e17}{892,912}{Brevig Mission/1/1918(H1N1)}
\Lf{e18}{845,958}{ML/Wisconsin/23/1974(H6N2)}
\Lf{e19}{815,1000}{TK/Wisconsin/1/1966(H9N2)}
\Lf{e20}{430,1045}{DK/Jiangsu/10-d4/2011(H11N3)}
\Lf{e21}{560,1085}{DK/Guangdong/04.23 DGQTSJ123-P/2015(Mixed)(H3N2)}
\Lf{e22}{515,1128}{DK/Guangdong/GZ15567/2015(H7N9)}
\Lf{e23}{495,1172}{DK/Guangdong/04.22 DGCP083-P/2015(H3N8)}
\Lf{e24}{595,1215}{EN/Guangxi/32828/2017(H3N2)}
\Lf{e25}{575,1260}{DK/Guangdong/8.30 DGCP036-C/2017(H6N2)}
\Lf{e26}{582,1305}{EN/Guangdong/zhanjiang/C17277346/2017(H5N6)}
\Lf[cr]{e27}{620,1348}{DK/Guangdong/XY44/2019(H3N2)}
\Lf[cr]{e28}{620,1392}{DK/Guangdong/PY8/2019(H3N2)}
\Lf[cr]{e29}{622,1437}{DK/Guangdong/XY3/2019(H3N2)}
\Lf[cr]{e30}{620,1478}{DK/Guangdong/XY46/2019(H3N2)}
\Lf{e31}{515,1525}{DK/Guangdong/02.11 DGCP101-P/2015(H6N6)}
\Bs{255,205}{100}\Bs{110,260}{99}\Bs{560,378}{100}\Bs{720,420}{99}
\Bs{758,455}{85}\Bs{210,605}{89}\Bs{145,690}{75}\Bs{360,730}{100}
\Bs{200,842}{76}\Bs{245,885}{95}\Bs{482,915}{99}\Bs{580,1015}{86}
\Bs{428,1135}{70}\Bs{485,1300}{93}\Bs{495,1345}{83}\Bs{530,1388}{96}
\Bs{568,1430}{96}\Bs{580,1475}{70}\Bs{338,1475}{99}
\draw[gbar,cr] (1520,1020) -- (1520,1568);
\end{scope}
\begin{scope}[z10,lab/.style={anchor=west,inner sep=1pt,font=\fsz{16.5}},bsl/.style={font=\fsz{14},inner sep=0pt}]
\Lf{e32}{555,48}{DK/Guangdong/04.22 DGCP075-P/2015(Mixed)(H3N2)}
\Lf{e33}{578,95}{EN/Guangdong/40751/2017(H3N2)}
\Lf{e34}{535,137}{DK/Guangdong/DGQTSJ147P/2015(H4N8)}
\Lf{e35}{440,180}{DK/Viet Nam/HN-2632/2016(H3)}
\Lf{e36}{495,222}{DK/Zhejiang/S3158/2012(H7N7)}
\Lf{e37}{472,267}{DK/Zhejiang/6D20/2013(H10N2)}
\Lf{e38}{470,308}{EN/Zhejiang/S4051/2013(H7N7)}
\Lf{e39}{450,352}{DK/Zhejiang/468/2013(H2N7)}
\Lf{e40}{450,392}{DK/Zhejiang/465/2013(H2N7)}
\Lf{e41}{495,437}{DK/Zhejiang/S4488/2014(H7N9)}
\Lf{e42}{472,480}{DK/Wenzhou/YJYF78/2015(H1N4)}
\Lf{e43}{530,522}{canine/Zhejiang/S34/2015(H3N8)}
\Lf{e44}{485,567}{DK/Zhejiang/S4489/2014(H7N9)}
\Lf{e45}{518,610}{CK/Zhejiang/7418/2015(H1N3)}
\Lf{e46}{518,652}{CK/Zhejiang/7490/2015(H1N3)}
\Lf{e47}{462,695}{DK/Yuhuan/YH45/2016(H1N2)}
\Lf{e48}{495,740}{CK/Zhejiang/51043/2015(H1N9)}
\Lf{e49}{495,780}{CK/Zhejiang/51048/2015(H1N9)}
\Lf{e50}{485,825}{EN/Fujian/85141/2014(H3N3)}
\Lf{e51}{472,867}{DK/Wenzhou/771/2013(H7N3)}
\Lf{e52}{495,910}{DK/Fujian/SD063/2017(H3N3)}
\Lf{e53}{505,953}{DK/Fujian/SD061/2017(H11N3)}
\Lf{e54}{530,995}{EN/Fujian/S1XA33/2017(H11N3)}
\Lf{e55}{472,1038}{EN/Jiangxi/46379/2015(H4N2)}
\Lf{e56}{472,1082}{DK/Zhejiang/727145/2014(H4N2)}
\Lf{e57}{528,1125}{DK/Zhejiang/D1/2013(H1N2)}
\Lf{e58}{588,1168}{CK/Jiangsu/12.30 WZNHQ013-P/2014(Mixed)(H3N2)}
\Lf{e59}{540,1212}{CK/Zhejiang/2CP8/2014(H10N7)}
\Lf[cr]{e60}{608,1253}{DK/Guangdong/A1-2/2018(H3N2)}
\Lf[cr]{e61}{600,1297}{DK/Guangdong/SN3/2019(H3N2)}
\Lf{e62}{495,1338}{DK/Huzhou/4227/2013(H7N7)}
\Lf{e63}{505,1383}{DK/Huzhou/4268/2013(H7N7)}
\Lf{e64}{555,1425}{DK/Zhejiang/D6/2013(H1N2)}
\Lf{e65}{555,1465}{DK/Zhejiang/D5/2013(H1N2)}
\Lf{e66}{530,1510}{DK/Zhejiang/D7/2013(H1N2)}
\Cl{en1}{302}{e1,e2}
\Cl{en2}{815}{e6,e7}
\Cl{en3}{798}{e5,en2}
\Cl{en4}{757}{e4,en3}
\Cl{en5}{607}{e3,en4}
\Cl{en6}{150}{en1,en5}
\Cl{en8}{272}{e11,e12}
\Cl{en9}{245}{e10,en8}
\Cl{en10}{410}{e13,e14}
\Cl{en11}{288}{e15,e16}
\Cl{en12}{240}{en10,en11}
\Cl{en13}{180}{en9,en12}
\Cl{en14}{618}{e18,e19}
\Cl{en15}{520}{e17,en14}
\Cl[cr]{en16}{605}{e27,e28,e29,e30}
\Cl{en17}{570}{e26,en16}
\Cl{en18}{538}{e25,en17}
\Cl{en19}{520}{e24,en18}
\Cl{en20}{478}{e21,e22}
\Cl{en21}{482}{e23,en19}
\Cl{en22}{465}{en20,en21}
\Cl{en23}{500}{e33,e34}
\Cl{en24}{455}{e32,en23}
\Cl{en25}{428}{e31,en24,e35}
\Cl{en26}{420}{en22,en25}
\Cl{en27}{455}{e37,e38}
\Cl{en28}{432}{e36,en27}
\Cl{en29}{440}{e39,e40}
\Cl{en30}{465}{e41,e42,e43}
\Cl{en31}{510}{e45,e46}
\Cl{en32}{458}{e44,en31,e47}
\Cl{en33}{492}{e48,e49}
\Cl{en35}{492}{e53,e54}
\Cl{en34}{468}{e52,en35}
\Cl{en36}{452}{e51,en34}
\Cl{en37}{440}{e55,e56}
\Cl{en38}{438}{en30,en32,en33,e50,en36,en37}
\Cl{en39}{525}{e64,e65}
\Cl{en40}{500}{e63,en39,e66}
\Cl[cr]{en41}{595}{e60,e61}
\Cl{en42}{505}{e58,e59}
\Cl{en43}{492}{en42,en41,e62,en40}
\Cl{en44}{440}{e57,en43}
\Cl{en45}{425}{en29,en38,en44}
\Cl{en46}{400}{en28,en45}
\Cl{en47}{385}{en26,en46}
\Cl{en48}{375}{e20,en47}
\Cl{en49}{218}{en15,en48}
\Cl{en50}{108}{en13,en49}
\Cl{enM}{25}{e9,en50}
\Cl{enL}{-17}{e8,enM}
\Cl{enR}{-65}{en6,enL}
\Bs{465,150}{81}\Bs{395,225}{82}\Bs{420,320}{88}\Bs{405,345}{98}
\Bs{475,665}{80}\Bs{455,795}{97}\Bs{450,990}{93}\Bs{548,1245}{100}
\Bs{485,1420}{71}
\draw[gbar,cr] (1520,0) -- (1520,1540);
\draw[sbar] (180,1447) -- (290,1447) (180,1435) -- (180,1460) (290,1435) -- (290,1460);
\node[slab] (sE) at (228,1475) {0.01};
\end{scope}
\node[font=\fsz{13},text=cr,inner sep=0pt] (gE1) at (1312,1902) {Group 1};

% ================= PANEL F =================
\begin{scope}[z11,lab/.style={anchor=west,inner sep=1pt,font=\fsz{16.6}},bsl/.style={font=\fsz{12},inner sep=0pt}]
\Lf{f1}{190,230}{GS/Guangdong/1/1996(H5N1)}
\Lf{f2}{470,268}{WDK/Shantou/4086/2004(H6N2)}
\Lf{f3}{610,312}{GS/Guangxi/139G20/2013(H3N2)}
\Lf{f4}{575,352}{SW/Guangdong/L21/2011(H3N2)}
\Lf{f5}{625,398}{EN/Guangxi/14185/2017(H3N2)}
\Lf{f6}{532,440}{DK/Shanghai/C84/2009(H3N2)}
\Lf{f7}{575,487}{GS/Guangdong/S1780/2012(H4N2)}
\Lf{f8}{612,530}{EN/Chongqing/79459/2014(H3N2)}
\Lf{f9}{602,572}{DK/Guangxi/135D20/2013(H3N2)}
\Lf{f10}{598,615}{DK/Guangdong/W12/2011(H3N2)}
\Lf{f11}{610,660}{EN/Yunnan/01457/2015(H3N2)}
\Lf{f12}{582,703}{EN/Guangxi/79509/2014(H3N2)}
\Lf{f13}{605,747}{EN/Hunan/39684/2015(H3N2)}
\Lf{f14}{598,790}{EN/Hunan/26067/2014(H3N2)}
\Lf{f15}{615,833}{EN/Jiangxi/47054/2016(H4N2)}
\Lf[cb]{f16}{695,880}{A/duck/A1-2/Guangdong/2018(H3N2)}
\Lf[cb]{f17}{690,920}{A/duck/SN3/Guangdong/2019(H3N2)}
\Lf{f18}{660,965}{EN/Hunan/34019/2017(H3N2)}
\Lf{f19}{655,1010}{DK/Zhejiang/10.26\_HZBX001-C/2018(H9)}
\Lf{f20}{668,1050}{DK/Wuxi/7275/2016(H3N8)}
\Lf{f21}{825,1095}{GS/Wuxi/7276/2016(H3N8)}
\Lf{f22}{655,1138}{EN/Anhui/33167/2016(H3N2)}
\Lf{f23}{580,1183}{DK/Shantou/168/2007(H6N8)}
\Lf{f24}{615,1228}{DK/Hong\_Kong/T37/1997(H11N8)}
\Lf{f25}{620,1270}{DK/Hong\_Kong/T25/1997(H11N8)}
\Lf{f26}{745,1312}{CK/Guangxi/165C7/2014(H3N2)}
\Lf{f27}{690,1355}{EN/Guangxi/28753/2014(H3N2)}
\Lf[cr]{f28}{688,1400}{A/duck/XY44/Guangdong/2019(H3N2)}
\Lf[cr]{f29}{695,1443}{A/duck/XY46/Guangdong/2019(H3N2)}
\Lf[cr]{f30}{695,1487}{A/duck/PY8/Guangdong/2019(H3N2)}
\Lf[cr]{f31}{695,1530}{A/duck/XY3/Guangdong/2019(H3N2)}
\Bs{510,530}{89}\Bs{540,660}{75}\Bs{628,880}{97}\Bs{605,1122}{93}
\Bs{568,1228}{99}\Bs{605,1335}{81}\Bs{640,1432}{99}\Bs{652,1472}{93}
\Bs{468,1518}{82}\Bs{578,1535}{95}
\draw[br] (210,655) -- (250,565) (228,652) -- (268,562);
\draw[gbar,cb,line width=1.8pt] (1420,290) -- (1420,1160);
\node[glab,cb,font=\sansf\fsz{14}] (gF2) at (1437,725) {Group 2};
\draw[gbar,cr,line width=1.8pt] (1420,1160) -- (1420,1568);
\end{scope}
\begin{scope}[z12,lab/.style={anchor=west,inner sep=1pt,font=\fsz{16.6}},bsl/.style={font=\fsz{12},inner sep=0pt}]
\Lf{f32}{670,62}{EN/Hunan/S4304/2011(H3N2)}
\Lf{f33}{745,100}{DK/Hubei/ZYSYF9/2015(H3N6)}
\Lf{f34}{715,145}{DK/Jiangxi/15867/2013(H10N3)}
\Lf{f35}{715,187}{DK/Jiangxi/20151/2013(H7N3)}
\Lf{f36}{730,230}{DK/Jiangxi/26175/2013(H7N3)}
\Lf{f37}{710,272}{ML/Xuyi/14/2015(H3N8)}
\Lf{f38}{690,315}{DK/Zhejiang/6D7/2013(H3N2)}
\Lf{f39}{690,357}{EN/Jiangxi/27771/2015(H3N2)}
\Lf{f40}{708,400}{EN/Jiangxi/02.05\_YGYXG010/2015(H3N2)}
\Lf{f41}{715,443}{DK/China/F1473-2/2016(H6N2)}
\Lf{f42}{640,488}{DK/Shantou/2954/2003(H6N8)}
\Lf{f43}{705,530}{bewicks\_swan/Netherlands/5/2008(H5N2)}
\Lf{f44}{795,575}{CK/Korea/38349-p96323/1996(H9N2)}
\Lf{f45}{695,618}{DK/Singapore/F119/3/1997(H5N3)}
\Lf{f46}{698,660}{Pekin\_robin/California/30412/1994(H7N1)}
\Lf{f47}{698,703}{avian/Canada/IM-1474/1994(H7N1)}
\Lf{f48}{708,745}{poultry/Italy/382/1997(H5N2)}
\Lf{f49}{808,790}{DK/Hong\_Kong/Y439/1997(H9N2)}
\Lf{f50}{700,832}{DK/Hong\_Kong/147/1977(H9N6)}
\Lf{f51}{772,875}{ML/Gurjev/263/1982(H14N5)}
\Lf{f52}{735,918}{DK/Nanchang/1749/1992(H11N2)}
\Lf{f53}{665,960}{ML/Sweden/310/2002(H4N6)}
\Lf{f54}{695,1002}{DK/Taiwan/A68/2003(H6N1)}
\Lf{f55}{640,1047}{DK/Hokkaido/18/2000(H10N4)}
\Lf{f56}{675,1088}{DK/Chiba/47/2007(H1N3)}
\Lf{f57}{638,1133}{ML/Italy/3401/2005(H5N1)}
\Lf{f58}{632,1177}{ML/Sweden/124987/2010(H7N7)}
\Lf{f59}{725,1217}{DK/Jiangxi/34775/2013(H7N3)}
\Lf{f60}{675,1262}{garganey/Bangladesh/38920/2019(H7N4)}
\Lf{f61}{690,1303}{DK/Mongolia/820/2019(H4N2)}
\Lf{f62}{668,1347}{DK/Chiba/8/2008(H4N6)}
\Lf{f63}{668,1390}{DK/Hokkaido/221/2008(H3N6)}
\Lf{f64}{680,1432}{DK/Vietnam/G32/2008(H11N9)}
\Lf{f65}{685,1475}{ruddy\_shelduck/Mongolia/686C2/2008(H2N3)}
\Lf{f66}{652,1518}{EN/Korea/W169/2007(H7N7)}
\Cl{fn1}{520}{f4,f5}
\Cl{fn2}{542}{f7,f8,f9,f10}
\Cl{fn3}{515}{fn1,f6,fn2}
\Cl{fn4}{570}{f11,f12}
\Cl[cb]{fn5}{660}{f16,f17}
\Cl{fn6}{640}{f20,f21,f22}
\Cl{fn7}{598}{fn5,f18,f19,fn6}
\Cl{fn8}{575}{f15,fn7}
\Cl{fn9}{558}{fn4,f13,f14,fn8}
\Cl{fn10b}{508}{fn3,fn9}
\Cl{fn10}{495}{f3,fn10b}
\Cl{fn12}{600}{f24,f25}
\Cl[cr]{fn13}{680}{f28,f29,f30,f31}
\Cl{fn14}{665}{f27,fn13}
\Cl{fn15}{635}{f26,fn14}
\Cl{fn16}{708}{f35,f36}
\Cl{fn17}{690}{f34,fn16}
\Cl{fn18}{672}{f33,fn17}
\Cl{fn19}{680}{f40,f41}
\Cl{fn20}{668}{f38,f39}
\Cl{fn21}{660}{fn20,fn19}
\Cl{fn22}{652}{f37,fn21}
\Cl{fn23}{640}{fn18,fn22}
\Cl{fn24}{625}{f32,fn23}
\Cl{fn25}{608}{fn15,fn24}
\Cl{fn26}{565}{fn12,fn25}
\Cl{fn27}{682}{f46,f47}
\Cl{fn28}{622}{f44,f45}
\Cl{fn29}{608}{fn28,fn27,f48}
\Cl{fn30}{603}{f43,fn29}
\Cl{fn31}{655}{f51,f52}
\Cl{fn32}{638}{f50,fn31}
\Cl{fn33}{625}{f49,fn32}
\Cl{fn34}{598}{fn30,fn33}
\Cl{fn35}{568}{f42,fn34}
\Cl{fn36}{625}{f54,f55}
\Cl{fn37}{605}{f53,fn36}
\Cl{fn38}{610}{f56,f57}
\Cl{fn39}{665}{f60,f61}
\Cl{fn40}{655}{f59,fn39}
\Cl{fn41}{620}{f58,fn40}
\Cl{fn42}{655}{f62,f63}
\Cl{fn43}{638}{f64,f65}
\Cl{fn44}{622}{fn42,fn43,f66}
\Cl{fn45}{600}{fn38,fn41,fn44}
\Cl{fn46}{585}{fn37,fn45}
\Cl{fn47}{562}{fn35,fn46}
\Cl{fn48}{555}{fn26,fn47}
\Cl{fn49}{500}{f23,fn48}
\Cl{fN}{450}{fn10,fn49}
\Cl{fM}{435}{f2,fN}
\Cl{fR}{52}{f1,fM}
\Bs{645,120}{84}\Bs{665,203}{98}\Bs{525,300}{81}\Bs{625,350}{74}
\Bs{655,450}{75}\Bs{650,660}{99}\Bs{592,1050}{99}\Bs{625,1275}{88}
\Bs{640,1310}{55}\Bs{628,1350}{99}
\draw[gbar,cr,line width=1.8pt] (1420,0) -- (1420,1530);
\node[glab,cr,font=\sansf\fsz{14}] (gF1) at (1437,595) {Group 1};
\draw[sbar] (420,1458) -- (488,1458) (420,1445) -- (420,1470) (488,1445) -- (488,1470);
\node[slab] (sF) at (460,1520) {0. 01};
\end{scope}
\end{tikzpicture}
\end{document}
